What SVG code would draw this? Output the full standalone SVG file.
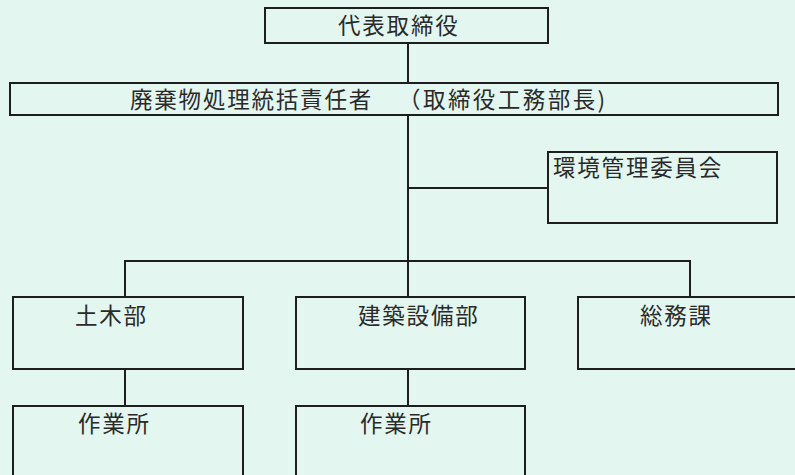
<svg xmlns="http://www.w3.org/2000/svg" width="795" height="475" viewBox="0 0 795 475">
<style>
.box{fill:none;stroke:#1e1e1e;stroke-width:2}
.ln{stroke:#1e1e1e;stroke-width:2;fill:none}
text{font-family:"Noto Sans CJK JP","Noto Sans CJK SC",sans-serif;font-size:22.5px;fill:#2a2a2a;letter-spacing:1.8px}
</style>
<rect width="795" height="475" fill="#e3f6ef"/>
<g id="connectors">
<line class="ln" x1="408" y1="43" x2="408" y2="83"/>
<line class="ln" x1="408" y1="115" x2="408" y2="297"/>
<line class="ln" x1="408" y1="188" x2="548" y2="188"/>
<polyline class="ln" points="125,297 125,261 690,261 690,297"/>
<line class="ln" x1="125" y1="369" x2="125" y2="406"/>
<line class="ln" x1="408" y1="369" x2="408" y2="406"/>
</g>
<g id="ceo"><rect class="box" x="265" y="8" width="283" height="35"/><text x="338" y="34">代表取締役</text></g>
<g id="manager"><rect class="box" x="10" y="83" width="768" height="32"/><text x="130" y="108">廃棄物処理統括責任者<tspan x="398" textLength="209" lengthAdjust="spacing">（取締役工務部長)</tspan></text></g>
<g id="committee"><rect class="box" x="548" y="152" width="229" height="71"/><text x="553" y="176">環境管理委員会</text></g>
<g id="civil"><rect class="box" x="13" y="297" width="230" height="72"/><text x="75" y="324">土木部</text></g>
<g id="building"><rect class="box" x="296" y="297" width="229" height="72"/><text x="358" y="324">建築設備部</text></g>
<g id="general"><rect class="box" x="578" y="297" width="230" height="72"/><text x="640" y="324">総務課</text></g>
<g id="site1"><rect class="box" x="13" y="406" width="230" height="80"/><text x="78" y="432">作業所</text></g>
<g id="site2"><rect class="box" x="296" y="406" width="229" height="80"/><text x="360" y="432">作業所</text></g>
</svg>
